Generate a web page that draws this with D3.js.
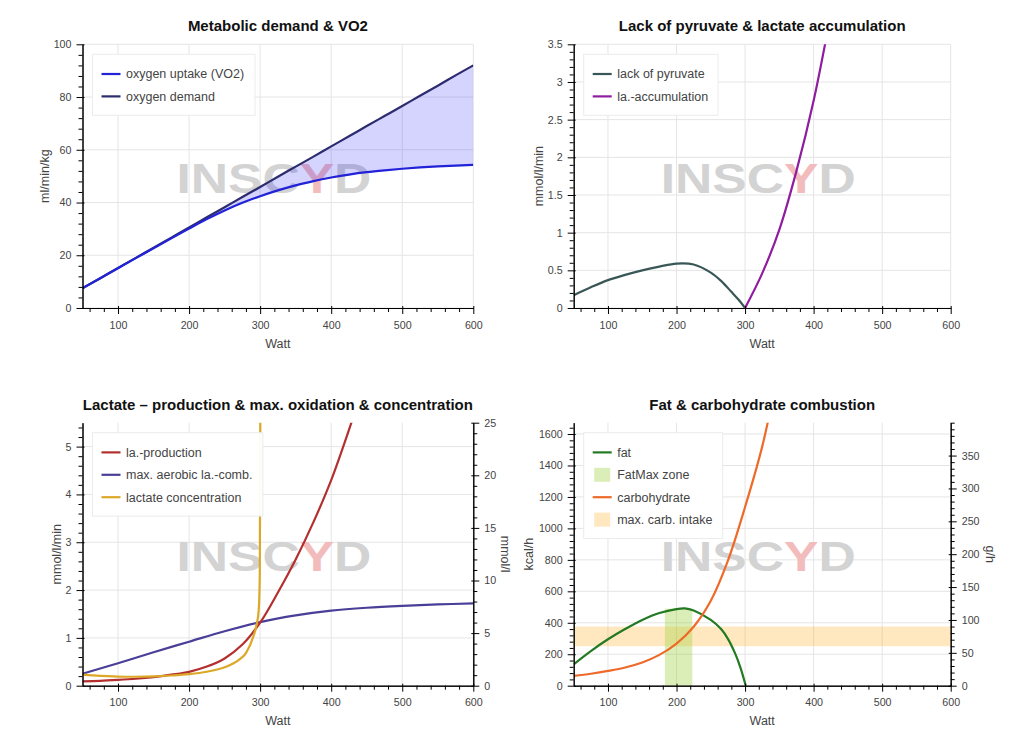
<!DOCTYPE html>
<html>
<head>
<meta charset="utf-8">
<script src="https://cdn.jsdelivr.net/npm/d3@7"></script>
<style>
  body { margin: 0; background: #fff; }
  svg { display: block; }
</style>
</head>
<body>
<div id="viz"></div>
<script>
// ---- data ----
const wattDomain = [50, 600];
const wattTicks = [100, 200, 300, 400, 500, 600];

// Metabolic demand & VO2
const vo2Watts = [50, 75, 100, 125, 150, 175, 200, 225, 250, 275, 300, 325, 350, 375, 400, 425, 450, 475, 500, 525, 550, 575, 600];
const oxygenUptake = [7.5, 11.3, 15.1, 18.9, 22.6, 26.4, 30.1, 33.7, 37.0, 39.9, 42.4, 44.6, 46.5, 48.1, 49.5, 50.6, 51.5, 52.2, 52.8, 53.3, 53.7, 54.0, 54.3];
const oxygenDemand = [7.5, 11.3, 15.2, 19.0, 22.9, 26.7, 30.5, 34.4, 38.2, 42.1, 45.9, 49.8, 53.6, 57.4, 61.3, 65.1, 69.0, 72.8, 76.6, 80.5, 84.3, 88.2, 92.0];
const vo2Ticks = [0, 20, 40, 60, 80, 100];

// Lack of pyruvate & lactate accumulation
const pyruvateWatts = [50, 75, 100, 125, 150, 175, 200, 225, 250, 265, 280, 290, 300];
const lackOfPyruvate = [0.17, 0.275, 0.37, 0.44, 0.5, 0.55, 0.59, 0.578, 0.47, 0.36, 0.215, 0.115, 0];
const accumulationWatts = [300, 325, 350, 375, 400, 425];
const laAccumulation = [0, 0.46, 1.04, 1.82, 2.75, 3.9];
const accTicks = [0, 0.5, 1, 1.5, 2, 2.5, 3, 3.5];

// Lactate production & oxidation & concentration
const productionWatts = [50, 75, 100, 125, 150, 175, 200, 225, 250, 275, 300, 325, 350, 375, 400, 425, 435];
const laProduction = [0.09, 0.1, 0.12, 0.145, 0.18, 0.23, 0.29, 0.4, 0.57, 0.86, 1.32, 1.95, 2.64, 3.42, 4.3, 5.35, 5.8];
const combustionWatts = [50, 100, 150, 200, 250, 300, 350, 400, 450, 500, 550, 600];
const maxAerobicComb = [0.25, 0.47, 0.7, 0.92, 1.14, 1.33, 1.47, 1.57, 1.63, 1.67, 1.70, 1.72];
const concentrationWatts = [50, 75, 100, 125, 150, 175, 200, 225, 250, 270, 280, 290, 295, 298, 299.5, 300.5];
const lactateConcentration = [1.05, 0.93, 0.87, 0.85, 0.88, 0.97, 1.1, 1.33, 1.75, 2.45, 3.1, 4.6, 5.8, 7.2, 10.5, 30];
const laLeftTicks = [0, 1, 2, 3, 4, 5];
const laRightTicks = [0, 5, 10, 15, 20, 25];

// Fat & carbohydrate combustion
const fatWatts = [50, 75, 100, 125, 150, 175, 200, 212, 225, 250, 265, 275, 285, 293, 301];
const fat = [136, 220, 295, 360, 418, 462, 487, 491, 478, 418, 360, 298, 210, 118, 0];
const carbWatts = [50, 75, 100, 125, 150, 175, 200, 225, 250, 275, 300, 325, 340];
const carbohydrate = [62, 76, 94, 116, 148, 196, 268, 375, 540, 795, 1136, 1520, 1820];
const fatMaxZone = [183, 223];
const fatMaxTop = 490;
const carbIntake = [60, 90];
const kcalTicks = [0, 200, 400, 600, 800, 1000, 1200, 1400, 1600];
const gramTicks = [0, 50, 100, 150, 200, 250, 300, 350];
const kcalMax = 1672;
const gramMax = 400;

// ---- style ----
const font = '"Liberation Sans", Arial, Helvetica, sans-serif';
const textColor = "#444";
const gridColor = "#e5e5e5";
const tickFormat = d3.format("~g");

const svg = d3
  .select("#viz")
  .append("svg")
  .attr("width", 1024)
  .attr("height", 742)
  .attr("font-family", font);

const boxes = {
  vo2: { left: 82.5, right: 473.3, top: 44.3, bottom: 308 },
  acc: { left: 573.7, right: 950.7, top: 44.3, bottom: 308 },
  lac: { left: 82.5, right: 473.3, top: 422.7, bottom: 685.7 },
  fat: { left: 573.7, right: 950.7, top: 422.7, bottom: 685.7 },
};

const makePanel = (id, box, title) => {
  const g = svg.append("g");
  g.append("clipPath")
    .attr("id", id)
    .append("rect")
    .attr("x", box.left)
    .attr("y", box.top)
    .attr("width", box.right - box.left)
    .attr("height", box.bottom - box.top);

  g.append("text")
    .attr("x", (box.left + box.right) / 2)
    .attr("y", box.top - 13)
    .attr("text-anchor", "middle")
    .attr("font-size", 15)
    .attr("font-weight", "bold")
    .attr("fill", "#111")
    .text(title);

  const x = d3.scaleLinear().domain(wattDomain).range([box.left, box.right]);
  return { g, x, clip: `url(#${id})` };
};

const drawGrid = (g, x, y, box, yTicks) => {
  g.append("g")
    .selectAll("line")
    .data(wattTicks)
    .join("line")
    .attr("x1", (d) => x(d))
    .attr("x2", (d) => x(d))
    .attr("y1", box.top)
    .attr("y2", box.bottom)
    .attr("stroke", gridColor);
  g.append("g")
    .selectAll("line")
    .data(yTicks)
    .join("line")
    .attr("x1", box.left)
    .attr("x2", box.right)
    .attr("y1", (d) => y(d))
    .attr("y2", (d) => y(d))
    .attr("stroke", gridColor);
};

const drawWatermark = (g, box) => {
  const cx = (box.left + box.right) / 2 - 4;
  const cy = (box.top + box.bottom) / 2 + 16.5;
  const t = g
    .append("text")
    .attr("transform", `translate(${cx},${cy}) scale(1.2,1)`)
    .attr("text-anchor", "middle")
    .attr("font-size", 43)
    .attr("font-weight", "bold");
  t.append("tspan").attr("fill", "#d3d3d3").text("INSC");
  t.append("tspan").attr("fill", "#f3bcbc").text("Y");
  t.append("tspan").attr("fill", "#d3d3d3").text("D");
};

const styleAxis = (sel) => {
  sel.select(".domain").attr("stroke", "#000");
  sel.selectAll(".tick line").attr("stroke", "#000");
  sel.selectAll(".tick text")
    .attr("fill", textColor)
    .attr("font-size", 10.7)
    .attr("font-family", font);
};

const minorValues = (domain, step, majors) => {
  const n = Math.floor((domain[1] - domain[0]) / step + 1e-6);
  const out = [];
  for (let i = 0; i <= n; i++) {
    const v = domain[0] + i * step;
    if (!majors.some((m) => Math.abs(m - v) < 1e-6)) out.push(v);
  }
  return out;
};

const drawXAxis = (g, x, box) => {
  const minor = minorValues([60, 600], 20, wattTicks);
  g.append("g")
    .attr("transform", `translate(0,${box.bottom})`)
    .call(d3.axisBottom(x).tickValues(minor).tickSize(4).tickFormat("").tickSizeOuter(0))
    .call(styleAxis);
  const ax = g
    .append("g")
    .attr("transform", `translate(0,${box.bottom})`)
    .call(
      d3.axisBottom(x).tickValues(wattTicks).tickFormat(tickFormat)
        .tickSize(6).tickPadding(7).tickSizeOuter(0)
    )
    .call(styleAxis);
  ax.selectAll(".tick line").attr("y1", -2);

  g.append("text")
    .attr("x", (box.left + box.right) / 2)
    .attr("y", box.bottom + 39.5)
    .attr("text-anchor", "middle")
    .attr("font-size", 12.5)
    .attr("fill", textColor)
    .text("Watt");
};

const drawYAxis = (g, y, box, ticks, minorStep, label, labelX, side = "left") => {
  const isLeft = side === "left";
  const pos = isLeft ? box.left : box.right;
  const axisFn = isLeft ? d3.axisLeft : d3.axisRight;
  const minor = minorValues(y.domain(), minorStep, ticks);
  g.append("g")
    .attr("transform", `translate(${pos},0)`)
    .call(axisFn(y).tickValues(minor).tickSize(4).tickFormat("").tickSizeOuter(0))
    .call(styleAxis);
  const ax = g
    .append("g")
    .attr("transform", `translate(${pos},0)`)
    .call(
      axisFn(y).tickValues(ticks).tickFormat(tickFormat)
        .tickSize(6).tickPadding(5).tickSizeOuter(0)
    )
    .call(styleAxis);
  ax.selectAll(".tick line").attr("x1", isLeft ? 2 : -2);

  const cy = (box.top + box.bottom) / 2;
  g.append("text")
    .attr("transform", `translate(${labelX},${cy}) rotate(${isLeft ? -90 : 90})`)
    .attr("text-anchor", "middle")
    .attr("dy", "0.35em")
    .attr("font-size", 12.5)
    .attr("fill", textColor)
    .text(label);
};

const drawLine = (g, clip, x, y, xs, ys, color, curve = d3.curveCatmullRom.alpha(0.5)) => {
  const line = d3
    .line()
    .x((d, i) => x(xs[i]))
    .y((d) => y(d))
    .curve(curve);
  g.append("path")
    .attr("clip-path", clip)
    .attr("d", line(ys))
    .attr("fill", "none")
    .attr("stroke", color)
    .attr("stroke-width", 2.2);
};

const drawLegend = (g, box, width, items) => {
  const lx = box.left + 10;
  const ly = box.top + 10;
  g.append("rect")
    .attr("x", lx)
    .attr("y", ly)
    .attr("width", width)
    .attr("height", 16.2 + items.length * 22.4)
    .attr("fill", "#fff")
    .attr("fill-opacity", 0.95)
    .attr("stroke", "#ececec");

  items.forEach((item, i) => {
    const cy = ly + 19.7 + i * 22.4;
    if (item.type === "rect") {
      g.append("rect")
        .attr("x", lx + 10.5)
        .attr("y", cy - 7)
        .attr("width", 16)
        .attr("height", 14)
        .attr("fill", item.color)
        .attr("fill-opacity", item.opacity);
    } else {
      g.append("line")
        .attr("x1", lx + 9)
        .attr("x2", lx + 28)
        .attr("y1", cy)
        .attr("y2", cy)
        .attr("stroke", item.color)
        .attr("stroke-width", 2.2);
    }
    g.append("text")
      .attr("x", lx + 33.5)
      .attr("y", cy)
      .attr("dy", "0.35em")
      .attr("font-size", 12.5)
      .attr("fill", textColor)
      .text(item.label);
  });
};

// ---- panel 1: Metabolic demand & VO2 ----
(() => {
  const box = boxes.vo2;
  const { g, x, clip } = makePanel("clip-vo2", box, "Metabolic demand & VO2");
  const y = d3.scaleLinear().domain([0, 100]).range([box.bottom, box.top]);
  drawGrid(g, x, y, box, vo2Ticks);
  drawWatermark(g, box);

  const area = d3
    .area()
    .x((d, i) => x(vo2Watts[i]))
    .y0((d) => y(d))
    .y1((d, i) => y(oxygenDemand[i]))
    .curve(d3.curveMonotoneX);
  g.append("path")
    .attr("clip-path", clip)
    .attr("d", area(oxygenUptake))
    .attr("fill", "#0000ff")
    .attr("fill-opacity", 0.17);

  drawLine(g, clip, x, y, vo2Watts, oxygenDemand, "#2c2c6e", d3.curveMonotoneX);
  drawLine(g, clip, x, y, vo2Watts, oxygenUptake, "#2222d8", d3.curveMonotoneX);
  drawXAxis(g, x, box);
  drawYAxis(g, y, box, vo2Ticks, 4, "ml/min/kg", 45);
  drawLegend(g, box, 162.5, [
    { label: "oxygen uptake (VO2)", color: "#2222d8" },
    { label: "oxygen demand", color: "#2c2c6e" },
  ]);
})();

// ---- panel 2: Lack of pyruvate & lactate accumulation ----
(() => {
  const box = boxes.acc;
  const { g, x, clip } = makePanel("clip-acc", box, "Lack of pyruvate & lactate accumulation");
  const y = d3.scaleLinear().domain([0, 3.5]).range([box.bottom, box.top]);
  drawGrid(g, x, y, box, accTicks);
  drawWatermark(g, box);
  drawLine(g, clip, x, y, pyruvateWatts, lackOfPyruvate, "#3a5757");
  drawLine(g, clip, x, y, accumulationWatts, laAccumulation, "#8e1e9e");
  drawXAxis(g, x, box);
  drawYAxis(g, y, box, accTicks, 0.1, "mmol/l/min", 538.7);
  drawLegend(g, box, 134.3, [
    { label: "lack of pyruvate", color: "#3a5757" },
    { label: "la.-accumulation", color: "#8e1e9e" },
  ]);
})();

// ---- panel 3: Lactate production & oxidation & concentration ----
(() => {
  const box = boxes.lac;
  const { g, x, clip } = makePanel("clip-lac", box, "Lactate \u2013 production & max. oxidation & concentration");
  const y = d3.scaleLinear().domain([0, 5.5]).range([box.bottom, box.top]);
  const y2 = d3.scaleLinear().domain([0, 25]).range([box.bottom, box.top]);
  drawGrid(g, x, y, box, laLeftTicks);
  drawWatermark(g, box);
  drawLine(g, clip, x, y, combustionWatts, maxAerobicComb, "#4a3f98");
  drawLine(g, clip, x, y, productionWatts, laProduction, "#b3302f");
  drawLine(g, clip, x, y2, concentrationWatts, lactateConcentration, "#dca828", d3.curveMonotoneX);
  drawXAxis(g, x, box);
  drawYAxis(g, y, box, laLeftTicks, 0.2, "mmol/l/min", 56.7);
  drawYAxis(g, y2, box, laRightTicks, 1, "mmol/l", 505, "right");
  drawLegend(g, box, 170.3, [
    { label: "la.-production", color: "#b3302f" },
    { label: "max. aerobic la.-comb.", color: "#4a3f98" },
    { label: "lactate concentration", color: "#dca828" },
  ]);
})();

// ---- panel 4: Fat & carbohydrate combustion ----
(() => {
  const box = boxes.fat;
  const { g, x, clip } = makePanel("clip-fat", box, "Fat & carbohydrate combustion");
  const y = d3.scaleLinear().domain([0, kcalMax]).range([box.bottom, box.top]);
  const y2 = d3.scaleLinear().domain([0, gramMax]).range([box.bottom, box.top]);
  drawGrid(g, x, y, box, kcalTicks);

  g.append("rect")
    .attr("x", x(wattDomain[0]))
    .attr("width", x(wattDomain[1]) - x(wattDomain[0]))
    .attr("y", y2(carbIntake[1]))
    .attr("height", y2(carbIntake[0]) - y2(carbIntake[1]))
    .attr("fill", "#ffa500")
    .attr("fill-opacity", 0.25);
  g.append("rect")
    .attr("x", x(fatMaxZone[0]))
    .attr("width", x(fatMaxZone[1]) - x(fatMaxZone[0]))
    .attr("y", y(fatMaxTop))
    .attr("height", y(0) - y(fatMaxTop))
    .attr("fill", "#9acd32")
    .attr("fill-opacity", 0.35);

  drawWatermark(g, box);
  drawLine(g, clip, x, y, fatWatts, fat, "#237a23");
  drawLine(g, clip, x, y, carbWatts, carbohydrate, "#ee6a2a");
  drawXAxis(g, x, box);
  drawYAxis(g, y, box, kcalTicks, 40, "kcal/h", 528.7);
  drawYAxis(g, y2, box, gramTicks, 10, "g/h", 990, "right");
  drawLegend(g, box, 139, [
    { label: "fat", color: "#237a23" },
    { label: "FatMax zone", color: "#9acd32", type: "rect", opacity: 0.35 },
    { label: "carbohydrate", color: "#ee6a2a" },
    { label: "max. carb. intake", color: "#ffa500", type: "rect", opacity: 0.25 },
  ]);
})();
</script>
</body>
</html>
